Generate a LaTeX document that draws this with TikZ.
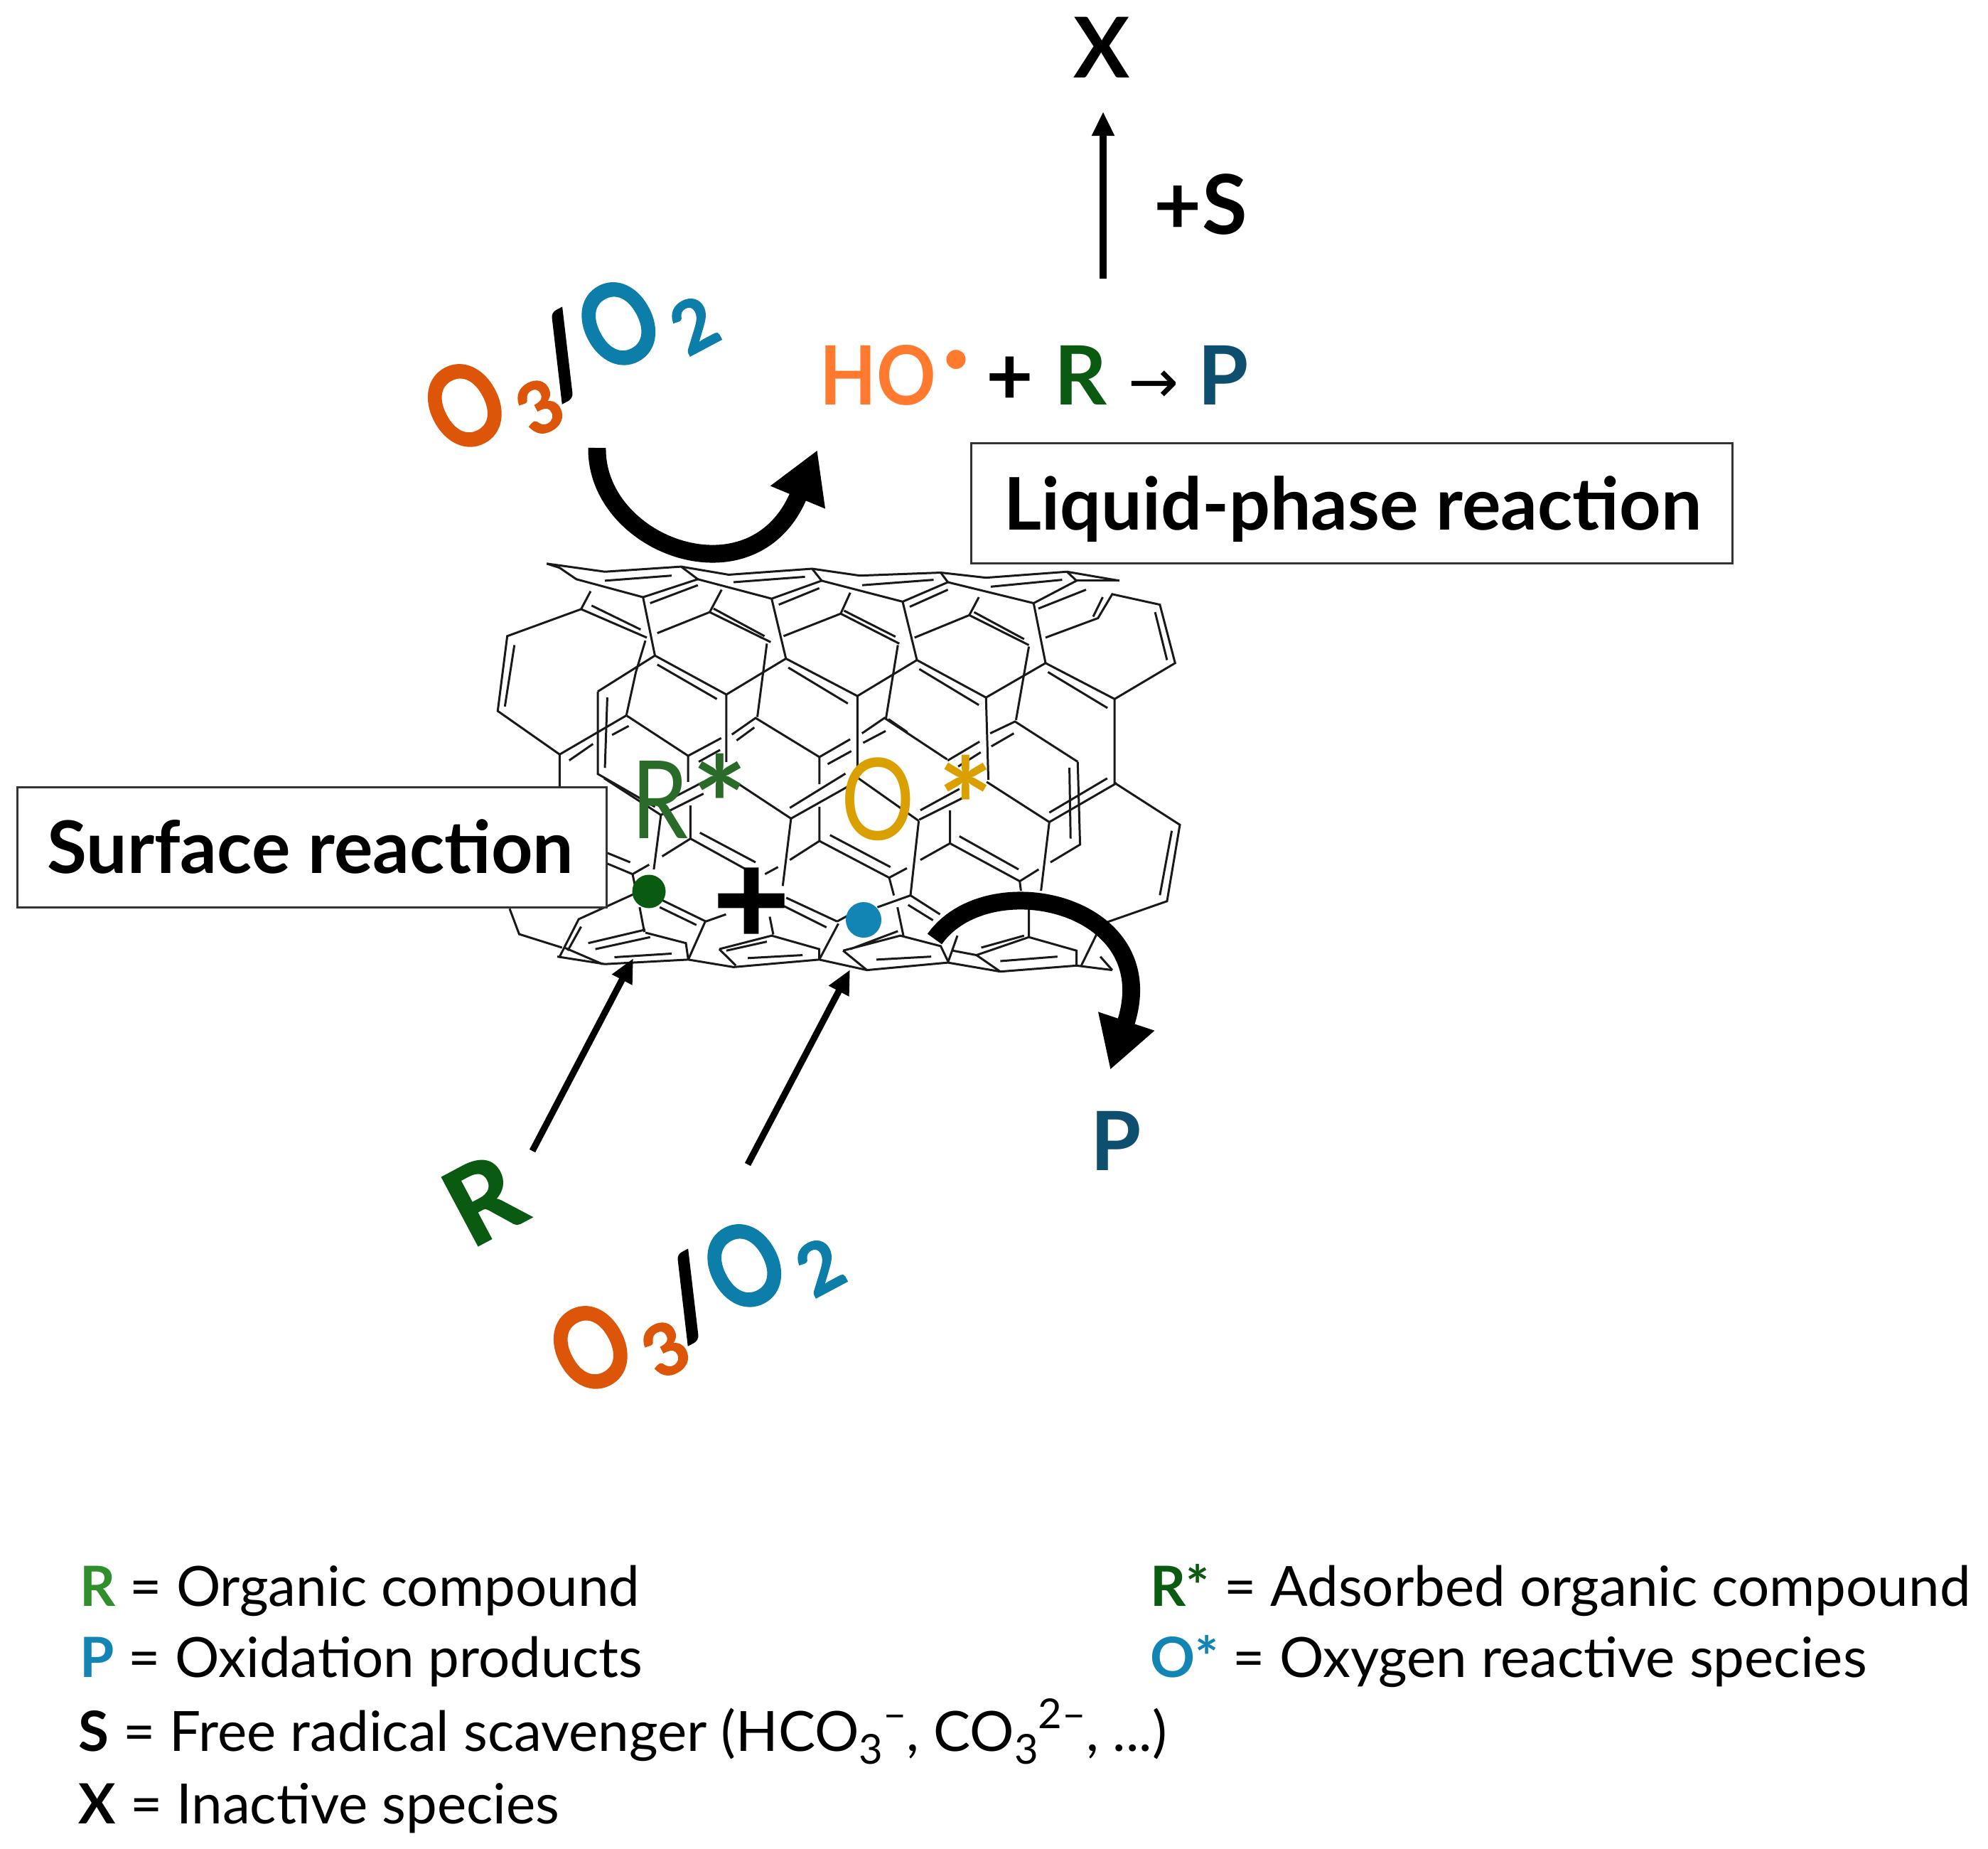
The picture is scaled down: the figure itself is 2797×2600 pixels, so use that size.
\documentclass[tikz,border=0pt]{standalone}
\usepackage{fontspec}
\usepackage{graphicx}
\usetikzlibrary{arrows.meta}
\setmainfont{Lato}
\newfontfamily\plusfont{DejaVu Sans}[BoldFeatures={FakeBold=3}]
\newfontfamily\arrowfont{DejaVu Sans}
\newfontfamily\heavyfont{Lato}[BoldFeatures={FakeBold=1.6}]
\newdimen\pxu \pxu=0.28453pt
\newcommand\fs[1]{\fontsize{\the\dimexpr#1\pxu\relax}{\the\dimexpr#1\pxu\relax}\selectfont}
\definecolor{ozoneor}{HTML}{DD5508}
\definecolor{oxblue}{HTML}{0C7EA9}
\definecolor{hoor}{HTML}{FF7A2E}
\definecolor{rgreen}{HTML}{0B5A12}
\definecolor{pblue}{HTML}{0E4F6F}
\definecolor{lgreen}{HTML}{2F8F2A}
\definecolor{lblue}{HTML}{1285B5}
\definecolor{ramber}{HTML}{D9A000}
\definecolor{rsgreen}{HTML}{2A6B2A}
\newcommand\narrowO{\scalebox{0.86}[1.06]{O}}
\newcommand\ozone{\fs{150}\heavyfont\bfseries
  \makebox[100\pxu][c]{\color{ozoneor}\narrowO}%
  \makebox[84\pxu][c]{\raisebox{-30\pxu}{\fs{100}\color{ozoneor}3}}%
  \makebox[40\pxu][c]{\raisebox{3\pxu}{/}}%
  \makebox[142\pxu][c]{\color{oxblue}\narrowO}%
  \makebox[44\pxu][c]{\raisebox{-30\pxu}{\fs{100}\color{oxblue}2}}}
\newcommand\sub[1]{\raisebox{-18\pxu}{\fs{58}#1}}
\newcommand\sps[1]{\raisebox{32\pxu}{\fs{58}#1}}
\tikzset{
  lat/.style={line width=0.85pt,black!90,line join=miter},
  boxtext/.style={anchor=base west,inner sep=0pt,font=\fs{102}\bfseries},
  legendtxt/.style={anchor=base west,inner sep=0pt,font=\fs{78}},
  straightarrow/.style={line width=2.6pt,-{Triangle[length=9.7pt,width=8.5pt]}},
  curvearrow/.style={line width=7.1pt,-{Triangle[length=20.5pt,width=22.2pt]}},
  lbl/.style={anchor=base,inner sep=0pt},
}
\begin{document}
\begin{tikzpicture}[x=0.01cm,y=-0.01cm]
\useasboundingbox (0,0) rectangle (2797,2600);
\fill[white] (0,0) rectangle (2797,2600);
% ---------- nanotube
\begin{scope}[shift={(650,760)},x=0.006696cm,y=-0.004209cm,lat]
% top rim
\draw (178,78) -- (300,105) -- (460,88) -- (560,115) -- (735,95) -- (835,118) -- (1005,108) -- (1100,125) -- (1270,105) -- (1380,135);
\draw (178,78) -- (205,92) -- (240,130) -- (380,190) -- (495,130) -- (460,88);
\draw (495,130) -- (650,195) -- (755,135) -- (735,95);
\draw (755,135) -- (925,205) -- (1020,140) -- (1005,108);
\draw (1020,140) -- (1200,210) -- (1290,135) -- (1270,105);
\draw (1290,135) -- (1380,135);
\draw (300,135) -- (440,118) (570,140) -- (720,122) (840,150) -- (990,132) (1110,155) -- (1260,132);
\draw (395,210) -- (495,150) (665,215) -- (750,160) (940,222) -- (1020,165) (1210,228) -- (1310,165);
% second row
\draw (270,170) -- (250,230) (380,190) -- (405,385) (545,165) -- (520,240) (650,195) -- (680,395);
\draw (815,175) -- (795,245) (925,205) -- (955,400) (1085,190) -- (1065,250) (1200,210) -- (1225,410);
\draw (250,230) -- (95,320) -- (75,570) -- (205,715) -- (205,825);
\draw (110,350) -- (90,555);
\draw (250,230) -- (388,325) (272,218) -- (375,298);
\draw (410,310) -- (520,240) -- (648,340) (528,228) -- (635,320);
\draw (675,320) -- (795,245) -- (918,345) (802,235) -- (910,322);
\draw (950,325) -- (1065,250) -- (1190,350) (1075,240) -- (1180,330);
\draw (1225,325) -- (1335,260) -- (1365,180) -- (1465,215) -- (1497,410) -- (1370,530) -- (1370,815);
\draw (1345,190) -- (1325,255) (1455,240) -- (1480,400);
\draw (385,335) -- (365,440) -- (345,585) (640,345) -- (620,590) (915,350) -- (890,595) (1190,355) -- (1163,600);
% front upper row
\draw (285,505) -- (405,385) -- (555,515) -- (680,395) -- (830,520) -- (955,400) -- (1100,525) -- (1225,410) -- (1370,530);
\draw (410,415) -- (535,530) (685,425) -- (810,545) (960,430) -- (1085,550) (1230,440) -- (1355,560);
\draw (285,505) -- (285,780) -- (405,890) (305,525) -- (300,760);
\draw (555,515) -- (555,740) (830,520) -- (830,770) (1100,525) -- (1105,800);
% left side of the back row
\draw (205,715) -- (345,585) (225,735) -- (275,680) (315,650) -- (350,620);
% outer right
\draw (1370,810) -- (1507,950) -- (1480,1205) -- (1345,1280) (1490,970) -- (1465,1185);
% lower left
\draw (100,1230) -- (120,1315) -- (210,1360);
% bottom row
\draw (390,1160) -- (245,1265) -- (205,1390) (222,1370) -- (250,1290);
\draw (385,1310) -- (470,1345) -- (475,1400);
\draw (265,1345) -- (385,1300) (280,1365) -- (395,1325);
\draw (215,1360) -- (295,1415);
\draw (510,1275) -- (475,1400);
\draw (540,1365) -- (650,1320) -- (750,1365) -- (750,1400) (540,1365) -- (575,1420);
\draw (555,1370) -- (640,1340);
\draw (790,1280) -- (750,1400) (800,1370) -- (850,1435);
\draw (800,1370) -- (920,1320) -- (1005,1355) -- (1020,1405) (815,1365) -- (915,1305);
\draw (1040,1320) -- (1020,1410) (1030,1370) -- (1080,1385) -- (1130,1440);
\draw (1080,1385) -- (1190,1325) -- (1290,1370) -- (1290,1420) (1090,1360) -- (1180,1320) (1190,1325) -- (1190,1230);
\draw (1340,1290) -- (1300,1420) (1340,1390) -- (1365,1435);
% bottom rim
\draw (200,1390) -- (300,1415) -- (475,1400) -- (570,1425) -- (750,1400) -- (850,1435) -- (1020,1410) -- (1130,1440) -- (1290,1420) -- (1365,1435);
\draw (320,1392) -- (440,1380) (600,1395) -- (715,1385) (870,1400) -- (985,1390) (1130,1405) -- (1250,1390);
\end{scope}
% central part, left
\begin{scope}[shift={(850,1000)},x=0.003333cm,y=-0.003333cm,lat]
\draw (95,20) -- (355,190) -- (495,115) (400,215) -- (490,165) (355,190) -- (355,300);
\draw (540,100) -- (640,30) -- (910,195) -- (1040,120) (560,125) -- (635,70) (945,225) -- (1045,170);
\draw (910,195) -- (910,310) (1090,95) -- (1185,30) -- (1450,205) (1095,135) -- (1190,85);
\draw (0,285) -- (240,440) -- (210,670);
\draw (240,440) -- (420,350) (285,370) -- (420,300) (570,310) -- (790,455);
\draw (790,455) -- (1030,320) (785,410) -- (1020,265) (1075,285) -- (1330,465);
\draw (790,455) -- (755,740) (1330,465) -- (1295,780);
\draw (365,400) -- (365,540) -- (245,615) (365,540) -- (600,670) (405,515) -- (640,640);
\draw (910,405) -- (910,550) -- (785,630) (910,550) -- (1205,705) -- (1280,665) (955,525) -- (1210,660);
\draw (680,690) -- (735,660) (1205,705) -- (1225,780) (1240,830) -- (1265,950);
\draw (1295,780) -- (1155,830) (1295,780) -- (1420,860) (1285,820) -- (1390,885);
\draw (0,595) -- (110,640) (0,640) -- (120,690) -- (190,650) (120,690) -- (135,760);
\draw (245,800) -- (430,890) -- (515,860) (235,830) -- (390,905) (150,830) -- (170,935);
\draw (770,790) -- (985,890) (760,825) -- (940,915) (985,890) -- (1040,860);
\draw (700,870) -- (715,945);
\end{scope}
% central part, right
\begin{scope}[shift={(1250,1000)},x=0.003333cm,y=-0.003333cm,lat]
\draw (0,35) -- (80,90) (430,95) -- (535,45) -- (800,215) (435,150) -- (530,95);
\draw (295,235) -- (390,175) (415,300) -- (680,470);
\draw (130,460) -- (330,360) (135,420) -- (300,330) (250,210) -- (385,130);
\draw (680,470) -- (965,305) (680,430) -- (925,285);
\draw (800,215) -- (810,565) -- (685,640) (765,240) -- (770,540) (680,470) -- (645,760);
\draw (260,420) -- (260,560) -- (135,630) (260,560) -- (555,720) -- (635,670) (300,530) -- (550,670) (555,720) -- (560,760);
\end{scope}
% ---------- boxes
\node[draw=black!80,line width=0.85pt,fill=white,minimum width=1070\pxu,minimum height=168\pxu,inner sep=0pt] (liqbox) at (1902,708) {};
\node[boxtext] (liqtxt) at (1412,745) {Liquid-phase reaction};
\node[draw=black!80,line width=0.85pt,fill=white,minimum width=828\pxu,minimum height=169\pxu,inner sep=0pt] (surfbox) at (439,1192) {};
\node[boxtext] (surftxt) at (66,1228) {Surface reaction};
% ---------- adsorbed labels
\node[lbl,font=\fs{152},text=rsgreen,anchor=base west] (rstar) at (888,1179) {\makebox[92\pxu][l]{\scalebox{0.84}[1]{R}}\makebox[64\pxu][c]{\raisebox{-21\pxu}{\fs{185}\bfseries*}}};
\node[lbl,font=\fs{152},text=ramber,anchor=base west] (ostar) at (1183,1181) {\makebox[138\pxu][l]{\scalebox{0.85}[1.05]{O} }\makebox[74\pxu][c]{\raisebox{-21\pxu}{\fs{185}\bfseries*}}};
\node[circle,fill=rgreen,minimum size=47\pxu,inner sep=0pt] (rdot) at (913,1254) {};
\node[circle,fill=lblue,minimum size=50\pxu,inner sep=0pt] (odot) at (1215,1294) {};
\node[lbl,anchor=center,font=\fs{142}\plusfont\bfseries] (plus) at (1057,1267) {+};
% ---------- species
\node[lbl,font=\fs{118}\bfseries] (xnode) at (1550,110) {X};
\node[lbl,font=\fs{116}\bfseries,anchor=base west] (snode) at (1623,329) {+S};
\node[anchor=base west,inner sep=0pt,font=\fs{115}\bfseries] (hor) at (1153,569) {\makebox[204\pxu][l]{\color{hoor}\scalebox{0.9}[1]{HO}\hspace{10\pxu}\raisebox{44\pxu}{\fs{62}•}}\makebox[126\pxu][c]{\fs{115}+}\makebox[104\pxu][l]{\color{rgreen}R}\makebox[97\pxu][l]{\raisebox{3\pxu}{\arrowfont\mdseries\fs{85}→}}{\color{pblue}P}};
\node[lbl,font=\fs{115}\bfseries,text=pblue] (pnode) at (1570,1646) {P};
\node[lbl,font=\fs{150}\heavyfont\bfseries,text=rgreen,rotate=28] (rnode) at (705,1735) {R};
\node[anchor=base west,inner sep=0pt,rotate=28] (oz1) at (636,645) {\ozone};
\node[anchor=base west,inner sep=0pt,rotate=28] (oz2) at (813,1970) {\ozone};
% ---------- connectors
\coordinate (xa) at (1552,392);
\coordinate (xb) at (1552,157);
\draw[straightarrow] (xa) -- (xb);
\coordinate (ra) at (749,1619);
\coordinate (rb) at (891,1348);
\draw[straightarrow] (ra) -- (rb);
\coordinate (oa) at (1052,1638);
\coordinate (ob) at (1196,1364);
\draw[straightarrow] (oa) -- (ob);
\coordinate (c1a) at (840,630);
\coordinate (c1b) at (1150,633);
\draw[curvearrow] (c1a) .. controls (838,768) and (1060,850) .. (c1b);
\coordinate (c2a) at (1315,1321);
\coordinate (c2b) at (1562,1505);
\draw[curvearrow] (c2a) .. controls (1390,1215) and (1640,1270) .. (c2b);
% ---------- legend
\node[legendtxt] (l1) at (112,2259) {{\bfseries\color{lgreen}R} = Organic compound};
\node[legendtxt] (l2) at (112,2359) {{\bfseries\color{lblue}P} = Oxidation products};
\node[legendtxt] (l3) at (110,2463) {{\bfseries S} = Free radical scavenger (HCO\sub{3}\sps{–}, CO\sub{3}\sps{2–}, ...)};
\node[legendtxt] (l4) at (110,2565) {{\bfseries X} = Inactive species};
\node[legendtxt] (r1) at (1618,2259) {{\bfseries\color{rgreen}R*} = Adsorbed organic compound};
\node[legendtxt] (r2) at (1618,2359) {{\bfseries\color{lblue}O*} = Oxygen reactive species};
\end{tikzpicture}
\end{document}
